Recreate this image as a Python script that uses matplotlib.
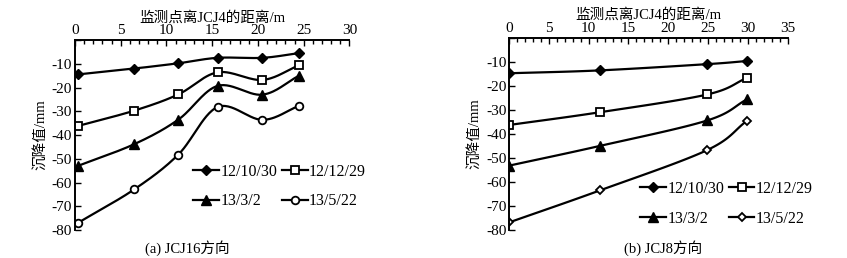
import numpy as np
import matplotlib.pyplot as plt
from matplotlib.ticker import MultipleLocator

plt.rcParams['font.family'] = ['Liberation Serif', 'Noto Sans CJK SC']
plt.rcParams['axes.unicode_minus'] = False

labels = ['12/10/30', '12/12/29', '13/3/2', '13/5/22']

# (a) JCJ16
x_a = [0.3, 6.5, 11.3, 15.6, 20.5, 24.5]
a_1 = [-14.5, -12.0, -9.8, -7.5, -7.5, -5.5]
a_2 = [-36.2, -29.7, -22.9, -13.6, -16.8, -10.6]
a_3 = [-53.0, -43.8, -33.5, -19.3, -23.0, -15.0]
a_4 = [-77.0, -62.8, -48.2, -28.2, -33.6, -27.7]

# (b) JCJ8
x_b = [0.0, 11.4, 24.9, 29.9]
b_1 = [-14.8, -13.6, -11.0, -9.7]
b_2 = [-36.3, -31.0, -23.6, -16.7]
b_3 = [-53.2, -45.0, -34.4, -25.6]
b_4 = [-76.8, -63.5, -46.7, -34.5]


def smooth(x, y, n=30):
    # catmull-rom curve through the points (like excel smoothed lines)
    p = np.column_stack([x, y]).astype(float)
    p = np.vstack([2 * p[0] - p[1], p, 2 * p[-1] - p[-2]])
    out = []
    t = np.linspace(0, 1, n)[:, None]
    for i in range(1, len(p) - 2):
        p0, p1, p2, p3 = p[i - 1], p[i], p[i + 1], p[i + 2]
        seg = 0.5 * ((2 * p1) + (-p0 + p2) * t + (2 * p0 - 5 * p1 + 4 * p2 - p3) * t ** 2
                     + (-p0 + 3 * p1 - 3 * p2 + p3) * t ** 3)
        out.append(seg)
    out = np.vstack(out)
    return out[:, 0], out[:, 1]


def draw(ax, x, series, styles, xmax):
    handles = []
    for y, st in zip(series, styles):
        sx, sy = smooth(x, y)
        ax.plot(sx, sy, color='black', lw=1.6)
        ax.plot(x, y, ls='none', color='black', **st)
        h, = ax.plot([], [], color='black', lw=1.6, **st)
        handles.append(h)
    ax.set_xlim(0, xmax)
    ax.set_ylim(-80, 0)
    ax.xaxis.tick_top()
    ax.xaxis.set_label_position('top')
    ax.xaxis.set_major_locator(MultipleLocator(5))
    ax.xaxis.set_minor_locator(MultipleLocator(1))
    ax.tick_params(which='both', direction='in', labelsize=11, width=1.0, pad=2)
    ax.tick_params(which='major', length=4)
    ax.tick_params(which='minor', length=3)
    ax.set_yticks(np.arange(-80, 1, 10))
    ax.set_yticklabels([str(v) for v in range(-80, 0, 10)] + [''])
    for s in ['right', 'bottom']:
        ax.spines[s].set_visible(False)
    for s in ['left', 'top']:
        ax.spines[s].set_linewidth(1.4)
    ax.set_xlabel('监测点离JCJ4的距离/m', fontsize=10.5, labelpad=2)
    ax.set_ylabel('沉降值/mm', fontsize=10.5, labelpad=3)
    return handles


fig = plt.figure(figsize=(8.47, 2.58), dpi=100)
ax1 = fig.add_axes([0.0885, 0.108, 0.324, 0.737])
ax2 = fig.add_axes([0.601, 0.108, 0.329, 0.746])

st_a = [dict(marker='D', ms=5.5, mfc='black'),
        dict(marker='s', ms=5.5, mfc='white', mew=1.3),
        dict(marker='^', ms=6.5, mfc='black'),
        dict(marker='o', ms=5.5, mfc='white', mew=1.3)]
st_b = [dict(marker='D', ms=5.5, mfc='black'),
        dict(marker='s', ms=5.5, mfc='white', mew=1.3),
        dict(marker='^', ms=6.5, mfc='black'),
        dict(marker='D', ms=4.5, mfc='white', mew=1.3)]

h1 = draw(ax1, x_a, [a_1, a_2, a_3, a_4], st_a, 30)
h2 = draw(ax2, x_b, [b_1, b_2, b_3, b_4], st_b, 35)

for ax, h, loc in [(ax1, h1, (0.39, 0.05)), (ax2, h2, (0.43, -0.04))]:
    order = [0, 2, 1, 3]
    ax.legend([h[i] for i in order], [labels[i] for i in order], ncol=2,
              loc='lower left', bbox_to_anchor=loc, frameon=False, fontsize=11.5,
              handlelength=1.6, handletextpad=0.1, columnspacing=0.3,
              labelspacing=0.85, borderpad=0.2, markerscale=1.0)

fig.text(187 / 847, 1 - 248 / 258, '(a) JCJ16方向', ha='center', va='center', fontsize=10.5)
fig.text(663 / 847, 1 - 248 / 258, '(b) JCJ8方向', ha='center', va='center', fontsize=10.5)

fig.savefig('out.png', dpi=100)
